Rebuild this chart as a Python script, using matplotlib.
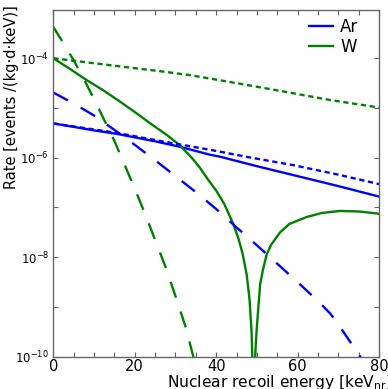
import numpy as np
import matplotlib
matplotlib.use("Agg")
import matplotlib.pyplot as plt
from matplotlib.ticker import FixedLocator, NullFormatter

plt.rcParams['font.family'] = ['DejaVu Sans']
plt.rcParams['lines.scale_dashes'] = False
plt.rcParams['mathtext.fontset'] = 'dejavusans'

# ---- data (log10 of rate) ----
ar_solid_E = [0, 5, 10, 15.6, 20, 25, 31.1, 38.5, 41, 50, 59, 70, 79.5, 80]
ar_solid_log = [-5.31, -5.38, -5.45, -5.52, -5.59, -5.67, -5.78, -5.94, -5.98, -6.17, -6.35,
                -6.57, -6.77, -6.78]

ar_dot_E = [0, 15.6, 26, 38.5, 48, 59, 70, 80]
ar_dot_log = [-5.31, -5.50, -5.66, -5.84, -5.99, -6.15, -6.34, -6.53]

ar_dash_E = [0, 5, 10, 15, 20, 25, 30, 35, 40, 45, 50, 55, 60, 65, 68, 70, 72.5, 75.4, 80]
ar_dash_log = [-4.69, -4.91, -5.15, -5.44, -5.74, -6.05, -6.37, -6.69, -7.03, -7.40, -7.76,
               -8.13, -8.50, -8.88, -9.13, -9.35, -9.65, -10.0, -10.6]

w_solid_E = [0, 4, 8.2, 12, 16, 20, 24, 28, 31.1, 34, 36, 38.1, 40, 42, 44.2, 45.5, 46.5,
             47.5, 48.2, 48.7, 49.0, 49.2, 49.4, 49.7, 50.0, 50.8, 51.5, 52.4, 53.5, 55.7,
             58, 62.3, 66, 70.4, 75, 79.5, 80]
w_solid_log = [-4.0, -4.21, -4.44, -4.63, -4.85, -5.08, -5.32, -5.55, -5.75, -6.0, -6.2,
               -6.45, -6.66, -6.93, -7.33, -7.63, -7.93, -8.35, -8.85, -9.5, -10.3, -13.0,
               -10.5, -9.8, -9.4, -8.55, -8.25, -7.95, -7.75, -7.5, -7.33, -7.19, -7.11,
               -7.07, -7.08, -7.12, -7.13]

w_dot_E = [0, 10, 20, 26.2, 33.6, 45, 56, 68, 80]
w_dot_log = [-4.0, -4.10, -4.20, -4.26, -4.34, -4.50, -4.66, -4.84, -4.99]

w_dash_E = [0, 2.5, 5, 7.5, 10, 12.5, 15, 17.5, 20, 22.5, 25, 27.5, 30, 32.5, 34.4, 36]
w_dash_log = [-3.37, -3.70, -4.04, -4.42, -4.82, -5.24, -5.66, -6.14, -6.62, -7.12, -7.65,
              -8.18, -8.78, -9.40, -10.0, -10.5]

legend_labels = ['Ar', 'W']
x_ticks = [0, 20, 40, 60, 80]
y_major = [1e-10, 1e-8, 1e-6, 1e-4]
y_minor = [1e-9, 1e-7, 1e-5, 1e-3]

blue = '#0000ff'
green = '#008000'
lw = 1.7
dash = (12, 10.5)
dot = (3.8, 2.6)

fig = plt.figure(figsize=(3.88, 3.89), dpi=100)
ax = fig.add_axes([53.3/388, 1-356.7/389, (379-53.3)/388, (356.7-10)/389])

def p(E, lg):
    return np.array(E), 10.0**np.array(lg)

ax.plot(*p(ar_solid_E, ar_solid_log), color=blue, lw=lw, label=legend_labels[0])
ax.plot(*p(w_solid_E, w_solid_log), color=green, lw=lw, label=legend_labels[1])
ax.plot(*p(ar_dot_E, ar_dot_log), color=blue, lw=lw, dashes=dot)
ax.plot(*p(ar_dash_E, ar_dash_log), color=blue, lw=lw, dashes=dash)
ax.plot(*p(w_dot_E, w_dot_log), color=green, lw=lw, dashes=dot)
ax.plot(*p(w_dash_E, w_dash_log), color=green, lw=lw, dashes=dash)

ax.set_yscale('log')
ax.set_xlim(0, 80)
ax.set_ylim(1e-10, 10**-3.03)

ax.xaxis.set_major_locator(FixedLocator(x_ticks))
ax.xaxis.set_minor_locator(FixedLocator(np.arange(0, 81, 5)))
ax.yaxis.set_major_locator(FixedLocator(y_major))
ax.yaxis.set_minor_locator(FixedLocator(y_minor))
ax.yaxis.set_minor_formatter(NullFormatter())
ax.set_yticklabels([r'$10^{-10}$', r'$10^{-8}$', r'$10^{-6}$', r'$10^{-4}$'])

spine_col = '0.4'
for s in ax.spines.values():
    s.set_color(spine_col)
    s.set_linewidth(1.0)
ax.tick_params(which='both', direction='in', top=True, right=True, color=spine_col,
               length=3.5, width=0.8)
ax.tick_params(axis='x', labelsize=10.5, pad=2)
ax.tick_params(axis='y', labelsize=8.5, pad=3)

ax.set_xlabel(r'Nuclear recoil energy [keV$_{\rm nr}$]', fontsize=11.2, ha='left')
ax.xaxis.set_label_coords((167-53.3)/325.7, -0.048)
ax.set_ylabel('Rate [events /(kg·d·keV)]', fontsize=10.5)
ax.yaxis.set_label_coords(-0.105, 0.748)

ax.legend(loc='upper right', frameon=False, fontsize=12, handlelength=1.4,
          borderaxespad=0.0, bbox_to_anchor=(1 - 14/325.7, 0.997),
          handletextpad=0.45, labelspacing=0.12)

fig.savefig('out.png', dpi=100)
